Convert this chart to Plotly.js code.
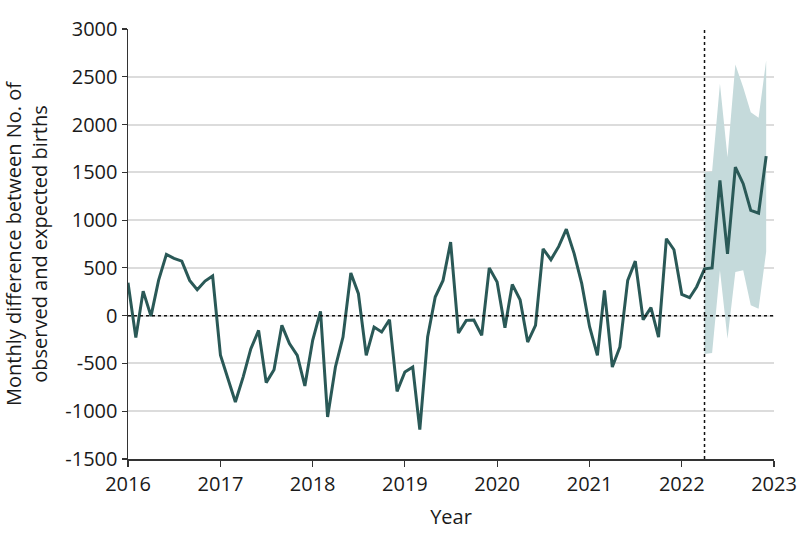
<!DOCTYPE html>
<html>
<head>
<meta charset="utf-8">
<script src="https://cdn.plot.ly/plotly-3.0.1.min.js"></script>
<style>
  html, body { margin: 0; padding: 0; background: #ffffff; }
  #chart { width: 798px; height: 545px; }
</style>
</head>
<body>
<div id="chart"></div>
<script>
// ---- Data ----
const years = [2016, 2017, 2018, 2019, 2020, 2021, 2022];

const diff2016 = [345, -230, 257, -5, 369, 641, 600, 571, 369, 272, 362, 415];
const diff2017 = [-415, -660, -904, -640, -348, -154, -701, -565, -101, -293, -415, -736];
const diff2018 = [-258, 45, -1060, -537, -224, 446, 230, -415, -119, -171, -42, -792];
const diff2019 = [-590, -537, -1193, -224, 195, 369, 770, -182, -49, -45, -206, 500];
const diff2020 = [352, -126, 327, 167, -276, -101, 700, 586, 725, 905, 649, 335];
const diff2021 = [-115, -415, 265, -537, -328, 369, 571, -42, 84, -224, 805, 690];
const diff2022 = [223, 188, 303, 490, 500, 1415, 648, 1555, 1381, 1101, 1073, 1670];

// Prediction interval, April 2022 - December 2022
const bandMonths = ['2022-04-01', '2022-05-01', '2022-06-01', '2022-07-01', '2022-08-01',
                    '2022-09-01', '2022-10-01', '2022-11-01', '2022-12-01'];
const bandUpper = [1502, 1510, 2427, 1659, 2629, 2390, 2130, 2071, 2670];
const bandLower = [-400, -390, 474, -241, 456, 474, 108, 73, 670];

const xTickVals = ['2016-01-01', '2017-01-01', '2018-01-01', '2019-01-01',
                   '2020-01-01', '2021-01-01', '2022-01-01', '2023-01-01'];
const xTickText = ['2016', '2017', '2018', '2019', '2020', '2021', '2022', '2023'];
const yTickVals = [-1500, -1000, -500, 0, 500, 1000, 1500, 2000, 2500, 3000];
const yTickText = ['-1500', '-1000', '-500', '0', '500', '1000', '1500', '2000', '2500', '3000'];

const cutoffDate = '2022-04-01';

// ---- Build series ----
const allDiffs = [diff2016, diff2017, diff2018, diff2019, diff2020, diff2021, diff2022];
const months = [];
const values = [];
years.forEach((yr, i) => {
  allDiffs[i].forEach((v, m) => {
    months.push(yr + '-' + String(m + 1).padStart(2, '0') + '-01');
    values.push(v);
  });
});

const FONT = '"Open Sans", "Noto Sans", sans-serif';
const FS = 20;
const TXT = '#1a1a1a';
const LINE_COLOR = '#2a5957';
const BAND_COLOR = '#c5dadb';

const traces = [
  { x: bandMonths, y: bandLower, type: 'scatter', mode: 'lines',
    line: { width: 0, color: BAND_COLOR }, hoverinfo: 'skip', showlegend: false },
  { x: bandMonths, y: bandUpper, type: 'scatter', mode: 'lines',
    line: { width: 0, color: BAND_COLOR }, fill: 'tonexty', fillcolor: BAND_COLOR,
    hoverinfo: 'skip', showlegend: false },
  { x: months, y: values, type: 'scatter', mode: 'lines',
    line: { color: LINE_COLOR, width: 3 }, showlegend: false }
];

const layout = {
  width: 798, height: 545,
  margin: { l: 128, r: 24, t: 29, b: 86 },
  paper_bgcolor: '#ffffff', plot_bgcolor: '#ffffff',
  font: { family: FONT, size: FS, color: TXT },
  showlegend: false,
  xaxis: {
    type: 'date',
    range: ['2016-01-01', '2023-01-01'],
    tickvals: xTickVals, ticktext: xTickText,
    showgrid: false, zeroline: false,
    showline: true, linecolor: '#333333', linewidth: 1.5,
    ticks: 'outside', ticklen: 6, tickcolor: '#333333', tickwidth: 1.2,
    tickfont: { family: FONT, size: FS, color: TXT },
    title: { text: 'Year', font: { family: FONT, size: FS, color: TXT }, standoff: 14 },
    automargin: false
  },
  yaxis: {
    range: [-1500, 3000],
    tickvals: yTickVals, ticktext: yTickText,
    showgrid: true, gridcolor: '#dcdcdc', gridwidth: 2,
    zeroline: false,
    showline: true, linecolor: '#333333', linewidth: 1.5,
    ticks: 'outside', ticklen: 5, tickcolor: '#333333', tickwidth: 1.2,
    tickfont: { family: FONT, size: FS, color: TXT },
    title: { text: 'Monthly difference between No. of<br>observed and expected births',
             font: { family: FONT, size: FS, color: TXT }, standoff: 16 },
    automargin: false
  },
  shapes: [
    { type: 'line', xref: 'paper', yref: 'y', x0: 0, x1: 1, y0: 0, y1: 0,
      line: { color: '#111111', width: 1.5, dash: 'dot' }, layer: 'above' },
    { type: 'line', xref: 'x', yref: 'paper', x0: cutoffDate, x1: cutoffDate, y0: 0, y1: 1,
      line: { color: '#111111', width: 1.5, dash: 'dot' }, layer: 'above' }
  ]
};

Plotly.newPlot('chart', traces, layout, { staticPlot: true, displayModeBar: false });
</script>
</body>
</html>
